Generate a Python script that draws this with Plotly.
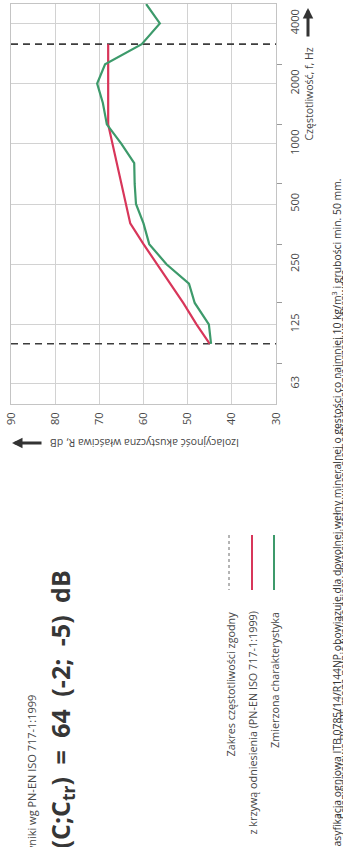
import plotly.graph_objects as go

# ---- data ----
ref_freq_hz = [100, 125, 160, 200, 250, 315, 400, 500, 630, 800, 1000, 1250, 1600, 2000, 2500, 3150]
ref_curve_db = [45, 48, 51, 54, 57, 60, 63, 64, 65, 66, 67, 68, 68, 68, 68, 68]

meas_freq_hz = [100, 125, 160, 200, 250, 315, 400, 500, 630, 800, 1000, 1250, 1600, 2000, 2500, 3150, 4000, 5000]
meas_db = [44.7, 45.2, 48.4, 49.7, 54.8, 58.7, 60.0, 61.7, 62.0, 62.1, 65.0, 68.3, 69.2, 70.5, 68.7, 60.4, 56.3, 59.4]

range_limits_hz = [100, 3150]
db_axis_span = [90, 30]

freq_ticks = [63, 125, 250, 500, 1000, 2000, 4000]
freq_ticktext = ["63", "125", "250", "500", "1000", "2000", "4000"]
freq_minor_ticks = [80, 160, 315, 630, 1250, 2500]
db_ticks = [90, 80, 70, 60, 50, 40, 30]

W, H = 343, 847
L, R, T, B = 11, 276, 4, 404  # plot area in pixels


def px(x):
    return (x - L) / (R - L)


def py(y):
    return (B - y) / (B - T)


FONT = "Open Sans"
TXT = "#474747"
RED = "#d8365a"
GREEN = "#3d9a6b"
ESP = "\u2002"

fig = go.Figure()

for f in range_limits_hz:
    fig.add_trace(go.Scatter(x=db_axis_span, y=[f, f], mode="lines",
                             line=dict(color="#3d3d3d", width=1.6, dash="7px,5px"),
                             hoverinfo="skip", showlegend=False))

fig.add_trace(go.Scatter(x=ref_curve_db, y=ref_freq_hz, mode="lines",
                         line=dict(color=RED, width=2.2), showlegend=False))
fig.add_trace(go.Scatter(x=meas_db, y=meas_freq_hz, mode="lines",
                         line=dict(color=GREEN, width=2.2), showlegend=False))

fig.update_xaxes(range=[90, 30], tickvals=db_ticks, ticktext=[str(v) for v in db_ticks],
                 tickangle=-90, showgrid=True, gridcolor="#d2d2d2", gridwidth=1,
                 zeroline=False, showline=True, linecolor="#c4c4c4", mirror=True,
                 ticks="", ticklabelstandoff=3,
                 tickfont=dict(family=FONT, size=11, color=TXT))

fig.update_yaxes(type="log", range=[1.69897, 3.69897], side="right",
                 tickvals=freq_ticks, ticktext=freq_ticktext, tickangle=-90,
                 showgrid=True, gridcolor="#d2d2d2", gridwidth=1,
                 zeroline=False, showline=True, linecolor="#c4c4c4", mirror=True,
                 ticks="", ticklabelstandoff=9,
                 minor=dict(tickvals=freq_minor_ticks, ticks="outside", ticklen=5,
                            tickcolor="#9a9a9a", showgrid=False),
                 tickfont=dict(family=FONT, size=11, color=TXT))

ann = []
# frequency axis title + arrow
ann.append(dict(text="Częstotliwość, f, Hz", x=px(308), y=py(46), xref="paper", yref="paper",
                xanchor="center", yanchor="top", textangle=-90, showarrow=False,
                font=dict(family=FONT, size=10.5, color=TXT)))
ann.append(dict(text="", x=px(308), y=py(8), xref="paper", yref="paper",
                showarrow=True, ax=0, ay=30, arrowhead=2, arrowsize=0.7, arrowwidth=3,
                arrowcolor="#333333"))
# dB axis title + arrow
ann.append(dict(text="Izolacyjność akustyczna właściwa R, dB", x=px(145), y=py(443),
                xref="paper", yref="paper", xanchor="center", yanchor="middle",
                textangle=180, showarrow=False, font=dict(family=FONT, size=10.5, color=TXT)))
ann.append(dict(text="", x=px(12), y=py(443), xref="paper", yref="paper",
                showarrow=True, ax=31, ay=0, arrowhead=2, arrowsize=0.7, arrowwidth=3,
                arrowcolor="#333333"))
# title block
title_txt = ("R<sub>w</sub>(C;C<sub>tr</sub>)" + ESP + "=" + ESP + "64" + ESP + "(-2;" + ESP + "-5)" + ESP + "dB")
ann.append(dict(text=title_txt, x=px(61), y=py(568),
                xref="paper", yref="paper", xanchor="center", yanchor="top",
                textangle=-90, showarrow=False,
                font=dict(family=FONT, size=25, color="#363636", weight="bold")))
ann.append(dict(text="Wyniki wg PN-EN ISO 717-1:1999", x=px(31), y=py(693),
                xref="paper", yref="paper", xanchor="center", yanchor="top",
                textangle=-90, showarrow=False, font=dict(family=FONT, size=11, color=TXT)))
# legend
legend_items = [
    ("Zakres częstotliwości zgodny", 230),
    ("z krzywą odniesienia (PN-EN ISO 717-1:1999)", 252),
    ("Zmierzona charakterystyka", 274),
]
for txt, xp in legend_items:
    ann.append(dict(text=txt, x=px(xp), y=py(610), xref="paper", yref="paper",
                    xanchor="center", yanchor="top", textangle=-90, showarrow=False,
                    font=dict(family=FONT, size=10.8, color=TXT)))
# footnote lines (partly cut by the page edge)
ann.append(dict(text="Klasyfikacja ogniowa ITB 0785/14/R144NP obowiązuje dla dowolnej wełny mineralnej "
                     "o gęstości co najmniej 10 kg/m<sup>3</sup> i grubości min. 50 mm.",
                x=px(336), y=py(177), xref="paper", yref="paper", xanchor="center", yanchor="top",
                textangle=-90, showarrow=False, font=dict(family=FONT, size=10.4, color="#333333")))
ann.append(dict(text="Ściany działowe BIGIPE mogą pełnić funkcję ściany działowej stanowiącej "
                     "element oddzielenia przeciwpożarowego",
                x=px(344), y=py(267), xref="paper", yref="paper", xanchor="center", yanchor="top",
                textangle=-90, showarrow=False, font=dict(family=FONT, size=10.4, color="#333333")))

shapes = [
    dict(type="line", xref="paper", yref="paper", x0=px(229), x1=px(229), y0=py(535), y1=py(590),
         line=dict(color="#6a6a6a", width=1, dash="3px,3px")),
    dict(type="line", xref="paper", yref="paper", x0=px(252), x1=px(252), y0=py(535), y1=py(590),
         line=dict(color=RED, width=2)),
    dict(type="line", xref="paper", yref="paper", x0=px(274), x1=px(274), y0=py(535), y1=py(590),
         line=dict(color=GREEN, width=2)),
]

fig.update_layout(width=W, height=H, margin=dict(l=L, r=W - R, t=T, b=H - B),
                  paper_bgcolor="white", plot_bgcolor="white",
                  annotations=ann, shapes=shapes, showlegend=False,
                  font=dict(family=FONT, color=TXT))

fig.write_html("out.html", config={"displayModeBar": False},
               post_script="document.body.style.margin='0';document.body.style.overflow='hidden';")
